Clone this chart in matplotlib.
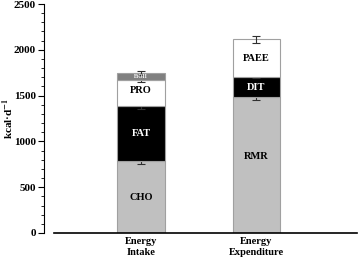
import numpy as np
import matplotlib.pyplot as plt

plt.rcParams['font.family'] = ['Liberation Serif', 'DejaVu Serif']
plt.rcParams['font.weight'] = 'bold'
plt.rcParams['mathtext.fontset'] = 'stix'

categories = ['Energy\nIntake', 'Energy\nExpenditure']

# stacked components (kcal/d)
intake_labels = ['CHO', 'FAT', 'PRO', 'EtOH']
intake_vals = [785, 600, 290, 70]
intake_err = [30, 30, 25, 20]
intake_colors = ['#c0c0c0', '#000000', '#ffffff', '#808080']
intake_text = ['#000000', '#ffffff', '#000000', '#ffffff']

expend_labels = ['RMR', 'DIT', 'PAEE']
expend_vals = [1485, 215, 415]
expend_err = [30, 12, 40]
expend_colors = ['#c0c0c0', '#000000', '#ffffff']
expend_text = ['#000000', '#ffffff', '#000000']

fig = plt.figure(figsize=(3.58, 2.58), dpi=100)
ax = fig.add_axes([54 / 358, 25 / 258, 303 / 358, 229 / 258])

width = 0.41


def stack(x, vals, errs, colors, labels, tcolors):
    bottom = 0
    for v, e, c, lab, tc in zip(vals, errs, colors, labels, tcolors):
        ax.bar(x, v, width, bottom=bottom, color=c, edgecolor='#a0a0a0', linewidth=0.8, zorder=2)
        top = bottom + v
        ax.errorbar(x, top, yerr=e, fmt='none', ecolor='#303030', elinewidth=0.8,
                    capsize=3, capthick=0.8, zorder=2)
        ypos = bottom + v / 2
        size = 7.5
        if lab == 'EtOH':
            size = 4
        elif lab == 'RMR':
            ypos = bottom + v * 0.56
        elif lab == 'PRO':
            ypos = bottom + v * 0.6
        ax.text(x, ypos, lab, ha='center', va='center', fontsize=size, color=tc, zorder=4)
        bottom = top


stack(0, intake_vals, intake_err, intake_colors, intake_labels, intake_text)
stack(1, expend_vals, expend_err, expend_colors, expend_labels, expend_text)

ax.set_xlim(-0.753, -0.753 + 303 / 115.5)
ax.set_ylim(0, 2500)
ax.set_yticks(np.arange(0, 2501, 500))
ax.set_yticks(np.arange(0, 2501, 100), minor=True)
ax.set_xticks([0, 1])
ax.set_xticklabels(categories, fontsize=7.5, fontweight='bold')
ax.tick_params(axis='x', length=0, pad=3)
ax.tick_params(axis='y', which='major', length=4, width=0.8, labelsize=8, direction='out', pad=2)
ax.tick_params(axis='y', which='minor', length=2, width=0.6, direction='out')
for t in ax.get_yticklabels():
    t.set_fontweight('bold')

ax.spines['top'].set_visible(False)
ax.spines['right'].set_visible(False)
ax.spines['left'].set_position(('outward', 7.2))
ax.spines['left'].set_linewidth(0.8)
ax.spines['bottom'].set_linewidth(1.2)

ax.set_ylabel('kcal·d$^{\\mathbf{-1}}$', fontsize=8, fontweight='bold', va='center')
ax.yaxis.set_label_coords(-0.15, 0.5)

fig.savefig('out.png', dpi=100)
